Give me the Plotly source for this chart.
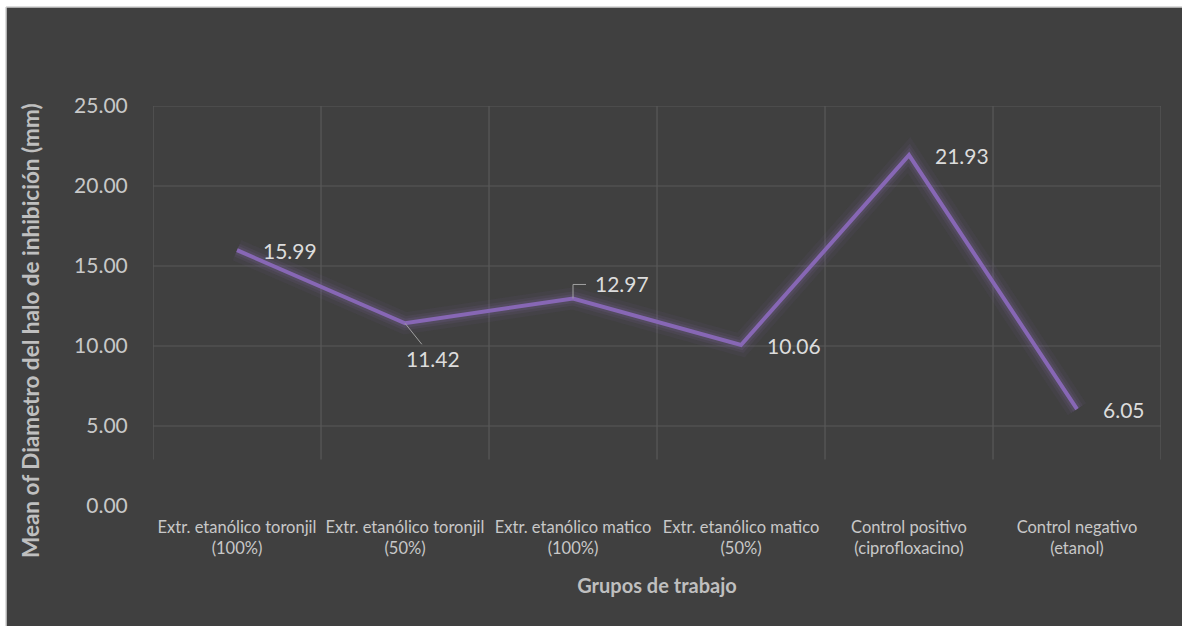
import plotly.graph_objects as go

categories = [
    "Extr. etanólico toronjil<br>(100%)",
    "Extr. etanólico toronjil<br>(50%)",
    "Extr. etanólico matico<br>(100%)",
    "Extr. etanólico matico<br>(50%)",
    "Control positivo<br>(ciprofloxacino)",
    "Control negativo<br>(etanol)",
]
values = [15.99, 11.42, 12.97, 10.06, 21.93, 6.05]
y_ticks = [0, 5, 10, 15, 20, 25]
y_ticktext = ["0.00", "5.00", "10.00", "15.00", "20.00", "25.00"]

x_idx = list(range(len(categories)))
BG = "#404040"
GRID = "#595959"
LINE = "#8767b5"
FONT = "Lato"

fig = go.Figure()
# glow
for w, a in [(22, 0.06), (14, 0.10), (9, 0.14)]:
    fig.add_trace(go.Scatter(x=x_idx, y=values, mode="lines",
                             line=dict(color=f"rgba(135,103,181,{a})", width=w),
                             hoverinfo="skip", showlegend=False))
fig.add_trace(go.Scatter(x=x_idx, y=values, mode="lines",
                         line=dict(color=LINE, width=4), showlegend=False))

shapes = []
# white outer strips + border
shapes.append(dict(type="rect", xref="paper", yref="paper", x0=-0.3, x1=-0.1458, y0=-0.5, y1=1.4,
                   fillcolor="white", line=dict(width=0), layer="above"))
shapes.append(dict(type="rect", xref="paper", yref="paper", x0=-0.3, x1=1.2, y0=1.2475, y1=1.4,
                   fillcolor="white", line=dict(width=0), layer="above"))
shapes.append(dict(type="line", xref="paper", yref="paper", x0=-0.1458, x1=-0.1458, y0=-0.5, y1=1.2475,
                   line=dict(color="#d0d0d0", width=1.5), layer="above"))
shapes.append(dict(type="line", xref="paper", yref="paper", x0=-0.1458, x1=1.2, y0=1.2475, y1=1.2475,
                   line=dict(color="#d0d0d0", width=1.5), layer="above"))
# gridlines
for t in y_ticks[1:]:
    shapes.append(dict(type="line", xref="x", yref="y", x0=-0.5, x1=5.52, y0=t, y1=t,
                       line=dict(color=GRID, width=1.2), layer="below"))
for i in range(len(categories) + 1):
    shapes.append(dict(type="line", xref="x", yref="y", x0=i - 0.5, x1=i - 0.5, y0=2.9, y1=25,
                       line=dict(color=GRID, width=1.2), layer="below"))
# elbow of the 12.97 leader line
shapes.append(dict(type="path", xref="x", yref="y", xsizemode="pixel", ysizemode="pixel",
                   xanchor=2, yanchor=values[2],
                   path="M0,0 L0,14 L13,14", line=dict(color="#a0a0a0", width=1)))

LBL = dict(family=FONT, size=21, color="#dcdcdc")
annotations = []
for i, v in enumerate(values):
    txt = f"{v:.2f}"
    if i == 1:
        annotations.append(dict(x=i, y=v, xref="x", yref="y", text=txt, showarrow=True,
                                arrowhead=0, arrowwidth=1, arrowcolor="#a0a0a0", ax=28, ay=35,
                                standoff=0, font=LBL))
    elif i == 2:
        annotations.append(dict(x=i, y=v, xref="x", yref="y", text=txt, showarrow=False,
                                xanchor="left", yanchor="middle", xshift=20, yshift=15, font=LBL))
    else:
        annotations.append(dict(x=i, y=v, xref="x", yref="y", text=txt, showarrow=False,
                                xanchor="left", yanchor="middle", xshift=24, font=LBL))

# y-axis title (placed as in the reference, slightly below plot centre)
annotations.append(dict(x=-0.122, y=0.4375, xref="paper", yref="paper", textangle=-90,
                        text="<b>Mean of Diametro del halo de inhibición (mm)</b>", showarrow=False,
                        xanchor="center", yanchor="middle",
                        font=dict(family=FONT, size=22.5, color="#bfbfbf")))

fig.update_layout(
    width=1182, height=626,
    margin=dict(l=153, r=21, t=106, b=120),
    paper_bgcolor=BG, plot_bgcolor=BG,
    font=dict(family=FONT, color="#c8c8c8"),
    shapes=shapes, annotations=annotations,
    xaxis=dict(range=[-0.5, 5.5], tickvals=x_idx, ticktext=categories, showgrid=False,
               zeroline=False, showline=False, ticks="outside", ticklen=6,
               tickcolor="rgba(0,0,0,0)", tickfont=dict(size=16.5, color="#c8c8c8"),
               title=dict(text="<b>Grupos de trabajo</b>", standoff=21,
                          font=dict(size=20, color="#bfbfbf"))),
    yaxis=dict(range=[0, 25], tickvals=y_ticks, ticktext=y_ticktext, showgrid=False,
               zeroline=False, showline=False, ticks="outside", ticklen=20,
               tickcolor="rgba(0,0,0,0)", tickfont=dict(size=21, color="#c8c8c8")),
)

fig.write_html("out.html")
